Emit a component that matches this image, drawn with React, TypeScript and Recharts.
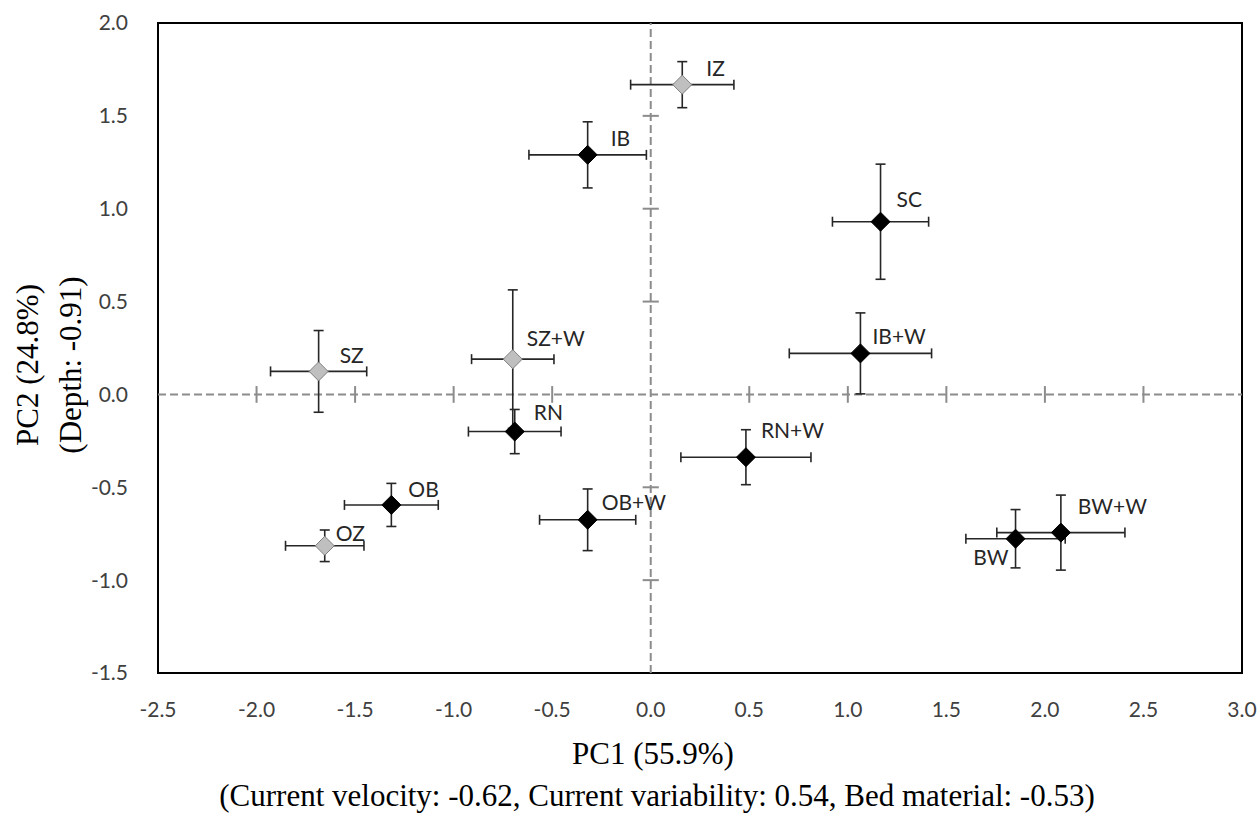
import React from 'react';
import {
  ScatterChart,
  Scatter,
  XAxis,
  YAxis,
  ErrorBar,
  ReferenceLine,
  ReferenceArea,
} from 'recharts';

// ---- data ----
const names = ['IZ', 'IB', 'SC', 'SZ', 'SZ+W', 'IB+W', 'RN', 'RN+W', 'OB', 'OZ', 'OB+W', 'BW', 'BW+W'];
const pc1 = [0.16, -0.32, 1.166, -1.685, -0.70, 1.064, -0.69, 0.483, -1.316, -1.654, -0.32, 1.851, 2.081];
const pc2 = [1.668, 1.29, 0.93, 0.124, 0.19, 0.221, -0.2, -0.338, -0.595, -0.815, -0.675, -0.777, -0.744];
const pc1Err = [0.262, 0.298, 0.244, 0.244, 0.209, 0.361, 0.235, 0.33, 0.238, 0.199, 0.244, 0.252, 0.325];
const pc2Err = [0.124, 0.178, 0.31, 0.22, 0.373, 0.218, 0.119, 0.148, 0.116, 0.085, 0.166, 0.157, 0.202];
const grey = [true, false, false, true, true, false, false, false, false, true, false, false, false];

const xTicks = [-2.5, -2, -1.5, -1, -0.5, 0, 0.5, 1, 1.5, 2, 2.5, 3];
const yTicks = [-1.5, -1, -0.5, 0, 0.5, 1, 1.5, 2];
const hLineMarks = [-2, -1.5, -1, -0.5, 0.5, 1, 1.5, 2, 2.5];
const vLineMarks = [-1, -0.5, 0.5, 1, 1.5];

const xTitle = 'PC1 (55.9%)';
const xSubTitle = '(Current velocity: -0.62, Current variability: 0.54, Bed material: -0.53)';
const yTitle = 'PC2 (24.8%)';
const ySubTitle = '(Depth: -0.91)';

// ---- label placement (layout only) ----
const labelPos: Record<string, [number, number, string]> = {
  IZ: [24, -17, 'start'],
  IB: [23, -17, 'start'],
  SC: [16, -23, 'start'],
  SZ: [21, -17, 'start'],
  'SZ+W': [14, -22, 'start'],
  RN: [19, -20, 'start'],
  'IB+W': [12, -18, 'start'],
  'RN+W': [15, -28, 'start'],
  OB: [17, -16, 'start'],
  OZ: [11, -13, 'start'],
  'OB+W': [14, -18, 'start'],
  'BW+W': [17, -27, 'start'],
  BW: [-7, 18, 'end'],
};

const rows = names.map((n, i) => ({ name: n, x: pc1[i], y: pc2[i], ex: pc1Err[i], ey: pc2Err[i], grey: grey[i] }));
const blackRows = rows.filter((r) => !r.grey);
const greyRows = rows.filter((r) => r.grey);

const SANS = 'Lato, "Open Sans", sans-serif';
const SERIF = '"Liberation Serif", "Times New Roman", serif';

const makeShape = (fill: string, stroke: string) => (props: any) => {
  const { cx, cy, payload } = props;
  if (cx == null || cy == null) return <g />;
  const r = 9.5;
  const pos = labelPos[payload.name] || [12, -16, 'start'];
  return (
    <g>
      <polygon
        points={`${cx},${cy - r} ${cx + r},${cy} ${cx},${cy + r} ${cx - r},${cy}`}
        fill={fill}
        stroke={stroke}
        strokeWidth={1}
      />
      <text
        x={cx + pos[0]}
        y={cy + pos[1]}
        textAnchor={pos[2] as any}
        dominantBaseline="central"
        fontFamily={SANS}
        fontSize={21}
        fill="#262626"
      >
        {payload.name}
      </text>
    </g>
  );
};

const renderXTitle = () => (
  <g>
    <text x={653} y={764} textAnchor="middle" fontFamily={SERIF} fontSize={31} fill="#000">
      {xTitle}
    </text>
    <text x={657} y={806} textAnchor="middle" fontFamily={SERIF} fontSize={31} fill="#000">
      {xSubTitle}
    </text>
  </g>
);

const renderYTitle = () => (
  <g>
    <text
      x={27}
      y={365}
      transform="rotate(-90 27 365)"
      textAnchor="middle"
      dominantBaseline="central"
      fontFamily={SERIF}
      fontSize={31}
      fill="#000"
    >
      {yTitle}
    </text>
    <text
      x={70}
      y={365}
      transform="rotate(-90 70 365)"
      textAnchor="middle"
      dominantBaseline="central"
      fontFamily={SERIF}
      fontSize={31}
      fill="#000"
    >
      {ySubTitle}
    </text>
  </g>
);

const GRID_GREY = '#8c8c8c';
const ERR = '#262626';

export default function App() {
  return (
    <div style={{ position: 'absolute', left: 0, top: 0, background: '#fff' }}>
      <ScatterChart width={1260} height={815} margin={{ top: 23, right: 18, left: 0, bottom: 0 }}>
        <XAxis
          type="number"
          dataKey="x"
          domain={[-2.5, 3]}
          ticks={xTicks}
          interval={0}
          allowDataOverflow
          height={142}
          axisLine={false}
          tickLine={false}
          tickSize={6}
          tickMargin={23}
          tickFormatter={(v: number) => v.toFixed(1)}
          tick={{ fontFamily: SANS, fontSize: 21, fill: '#404040' }}
          label={renderXTitle}
        />
        <YAxis
          type="number"
          dataKey="y"
          domain={[-1.5, 2]}
          ticks={yTicks}
          interval={0}
          allowDataOverflow
          width={158}
          axisLine={false}
          tickLine={false}
          tickSize={6}
          tickMargin={24}
          tickFormatter={(v: number) => v.toFixed(1)}
          tick={{ fontFamily: SANS, fontSize: 21, fill: '#404040' }}
          label={renderYTitle}
        />
        <ReferenceArea
          x1={-2.5}
          x2={3}
          y1={-1.5}
          y2={2}
          fill="none"
          fillOpacity={0}
          stroke="#000"
          strokeWidth={2}
          ifOverflow="visible"
        />
        <ReferenceLine x={0} stroke={GRID_GREY} strokeWidth={2} strokeDasharray="8 4" />
        <ReferenceLine y={0} stroke={GRID_GREY} strokeWidth={2} strokeDasharray="8 4" />
        {hLineMarks.map((v) => (
          <ReferenceLine
            key={'h' + v}
            segment={[
              { x: v, y: -0.045 },
              { x: v, y: 0.045 },
            ]}
            stroke={GRID_GREY}
            strokeWidth={2}
          />
        ))}
        {vLineMarks.map((v) => (
          <ReferenceLine
            key={'v' + v}
            segment={[
              { x: -0.041, y: v },
              { x: 0.041, y: v },
            ]}
            stroke={GRID_GREY}
            strokeWidth={2}
          />
        ))}
        <Scatter data={greyRows} isAnimationActive={false} shape={makeShape('#bfbfbf', '#7f7f7f')}>
          <ErrorBar dataKey="ex" direction="x" width={5} stroke={ERR} strokeWidth={1.6} />
          <ErrorBar dataKey="ey" direction="y" width={5} stroke={ERR} strokeWidth={1.6} />
        </Scatter>
        <Scatter data={blackRows} isAnimationActive={false} shape={makeShape('#000', '#000')}>
          <ErrorBar dataKey="ex" direction="x" width={5} stroke={ERR} strokeWidth={1.6} />
          <ErrorBar dataKey="ey" direction="y" width={5} stroke={ERR} strokeWidth={1.6} />
        </Scatter>
      </ScatterChart>
    </div>
  );
}
